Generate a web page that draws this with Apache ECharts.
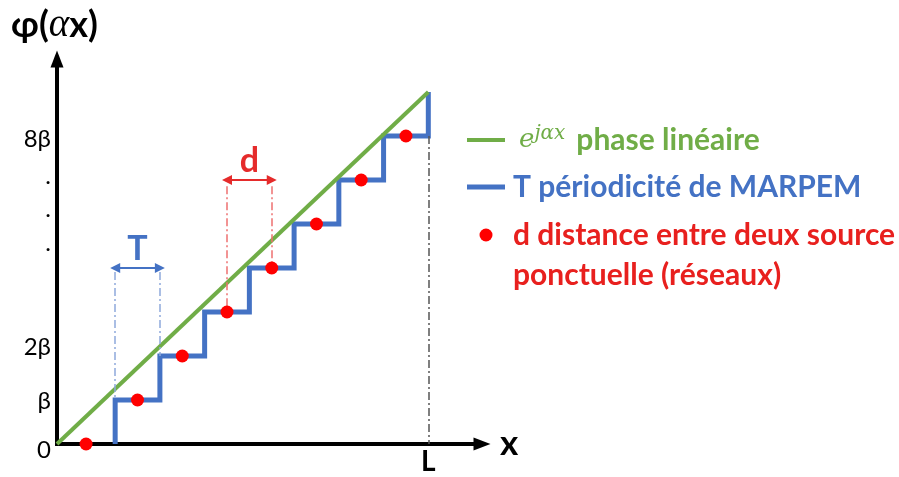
<!DOCTYPE html>
<html><head><meta charset="utf-8">
<script src="https://cdn.jsdelivr.net/npm/echarts@6/dist/echarts.min.js"></script>
<style>html,body{margin:0;padding:0;background:#fff}#c{width:899px;height:477px}</style>
</head><body><div id="c"></div>
<script>
// ---- data ----
const stairX = [1.3, 2.3, 3.3, 4.3, 5.3, 6.3, 7.3, 8.3];   // risers (period T)
const stairLevel = [0, 1, 2, 3, 4, 5, 6, 7, 8];            // phase levels (β units)
const phaseX = [0, 8.3];
const phaseY = [0, 8];
const dotX = [0.65, 1.8, 2.8, 3.8, 4.8, 5.8, 6.8, 7.8];   // point sources
const dotY = [0, 1, 2, 3, 4, 5, 6, 7];
const yTickValues = [0, 1.11, 2.34, 4.69, 5.46, 6.23, 7.07];
const yTickLabels = ['0', 'β', '2β', '.', '.', '.', '8β'];
const xTickValues = [8.3];
const xTickLabels = ['L'];
const periodSpan = [1.3, 2.3];   // T marker
const periodTop = 3.91;
const periodArrowY = 4.0;
const periodBottom = [1, 2];
const sourceSpan = [3.8, 4.8];   // d marker
const sourceTop = 5.86;
const sourceArrowY = 6.0;
const sourceBottom = [3, 4];
const lengthX = 8.3;             // L marker
const lengthTop = 7;

const GREEN = '#70AD47', BLUE = '#4472C4', RED = '#FF0000', RED_TXT = '#E8201E';
const FONT = 'Lato';

const stairPts = [];
for (let i = 0; i < stairX.length; i++) {
  stairPts.push([stairX[i], stairLevel[i]]);
  stairPts.push([stairX[i], stairLevel[i + 1]]);
}
const phasePts = phaseX.map((x, i) => [x, phaseY[i]]);
const dotPts = dotX.map((x, i) => [x, dotY[i]]);

const dashDot = [8, 3, 2, 3];
function vline(x, y0, y1, color) {
  return [{coord: [x, y0], symbol: 'none', lineStyle: {color: color, width: 1.5, type: dashDot}, label: {show: false}},
          {coord: [x, y1], symbol: 'none'}];
}
function arrow(x0, x1, y, color, text) {
  return [{coord: [x0, y], symbol: 'triangle', symbolSize: 10,
           lineStyle: {color: color, width: 2, type: 'solid'},
           label: {show: true, position: 'middle', formatter: text, color: color,
                   fontFamily: FONT, fontWeight: 'bold', fontSize: 34, distance: 2}},
          {coord: [x1, y], symbol: 'triangle', symbolSize: 10}];
}
function pick(values, labels, v) {
  const i = values.findIndex(t => Math.abs(t - v) < 1e-6);
  return i < 0 ? '' : labels[i];
}

const chart = echarts.init(document.getElementById('c'), null, {renderer: 'canvas'});
const legendBase = {
  orient: 'vertical', left: 467, padding: 0, itemWidth: 38, selectedMode: false,
  itemStyle: {borderWidth: 0}, textStyle: {fontFamily: FONT}
};
const MATH = 'DejaVu Serif';
chart.setOption({
  animation: false,
  backgroundColor: '#fff',
  grid: {left: 57, right: 417, top: 59, bottom: 33, containLabel: false, outerBoundsMode: 'none'},
  xAxis: {
    type: 'value', min: 0, max: 9.5,
    splitLine: {show: false}, axisTick: {show: false},
    axisLine: {onZero: true, symbol: ['none', 'triangle'], symbolSize: [13, 17],
               lineStyle: {color: '#000', width: 4, cap: 'square'}},
    axisLabel: {customValues: xTickValues, formatter: v => pick(xTickValues, xTickLabels, v),
                color: '#000', fontFamily: FONT, fontWeight: 'bold', fontSize: 28, margin: 4},
    name: 'x', nameLocation: 'end', nameGap: 18,
    nameTextStyle: {color: '#000', fontFamily: FONT, fontWeight: 'bold', fontSize: 35}
  },
  yAxis: {
    type: 'value', min: 0, max: 8.75,
    splitLine: {show: false}, axisTick: {show: false},
    axisLine: {symbol: ['none', 'triangle'], symbolSize: [13, 17],
               lineStyle: {color: '#000', width: 4, cap: 'square'}},
    axisLabel: {customValues: yTickValues, formatter: v => '{t|' + pick(yTickValues, yTickLabels, v) + '}',
                margin: 6,
                rich: {t: {color: '#000', fontFamily: FONT, fontSize: 24, padding: [12, 0, 0, 0]}}},
    name: '{a|φ(}{b|α}{a|x)}', nameLocation: 'end', nameGap: 14,
    nameTextStyle: {padding: [0, 5, 0, 0], rich: {
      a: {color: '#000', fontFamily: FONT, fontWeight: 'bold', fontSize: 36},
      b: {color: '#000', fontFamily: 'Liberation Serif', fontStyle: 'italic', fontSize: 39}
    }}
  },
  legend: [
    Object.assign({}, legendBase, {
      top: 124, itemHeight: 4, data: [{name: 'phase', icon: 'rect'}],
      formatter: () => '{p| }{e|e}{s|jαx}{q| }{g|phase linéaire}',
      textStyle: {rich: {
        p: {width: 9, lineHeight: 32},
        e: {color: GREEN, fontFamily: MATH, fontStyle: 'italic', fontSize: 26, lineHeight: 32},
        s: {color: GREEN, fontFamily: MATH, fontStyle: 'italic', fontSize: 20, lineHeight: 6, verticalAlign: 'top'},
        q: {width: 11, lineHeight: 32},
        g: {color: GREEN, fontFamily: FONT, fontWeight: 'bold', fontSize: 30, lineHeight: 32}
      }}
    }),
    Object.assign({}, legendBase, {
      top: 172, itemHeight: 5, data: [{name: 'periode', icon: 'rect'}],
      formatter: () => '{b|T périodicité de MARPEM}',
      textStyle: {rich: {b: {color: BLUE, fontFamily: FONT, fontWeight: 'bold', fontSize: 30, lineHeight: 32, padding: [0, 0, 0, 3]}}}
    }),
    Object.assign({}, legendBase, {
      left: 479.5, top: 180, itemHeight: 13, data: [{name: 'sources', icon: 'circle'}],
      formatter: () => '{r| }\n{r|d distance entre deux source}\n{r|ponctuelle (réseaux)}',
      textStyle: {rich: {r: {color: RED_TXT, fontFamily: FONT, fontWeight: 'bold', fontSize: 30, lineHeight: 40, padding: [0, 0, 0, 3]}}}
    })
  ],
  series: [
    {name: 'periode', type: 'line', data: stairPts, symbol: 'none', z: 3,
     lineStyle: {color: BLUE, width: 5, join: 'miter'}, itemStyle: {color: BLUE}},
    {name: 'phase', type: 'line', data: phasePts, symbol: 'none', z: 4,
     lineStyle: {color: GREEN, width: 4}, itemStyle: {color: GREEN}},
    {name: 'sources', type: 'scatter', data: dotPts, symbol: 'circle', symbolSize: 13, z: 5,
     itemStyle: {color: RED, opacity: 1}},
    {name: 'annotations', type: 'line', data: [], z: 2,
     markLine: {silent: true, animation: false, symbol: 'none', label: {show: false},
       data: [
         vline(periodSpan[0], periodTop, periodBottom[0], '#8EA9DB'),
         vline(periodSpan[1], periodTop, periodBottom[1], '#8EA9DB'),
         vline(sourceSpan[0], sourceTop, sourceBottom[0], '#EE7070'),
         vline(sourceSpan[1], sourceTop, sourceBottom[1], '#EE7070'),
         vline(lengthX, lengthTop, 0, '#555555'),
         arrow(periodSpan[0], periodSpan[1], periodArrowY, BLUE, 'T'),
         arrow(sourceSpan[0], sourceSpan[1], sourceArrowY, '#E52B2B', 'd')
       ]}}
  ]
});
</script></body></html>
